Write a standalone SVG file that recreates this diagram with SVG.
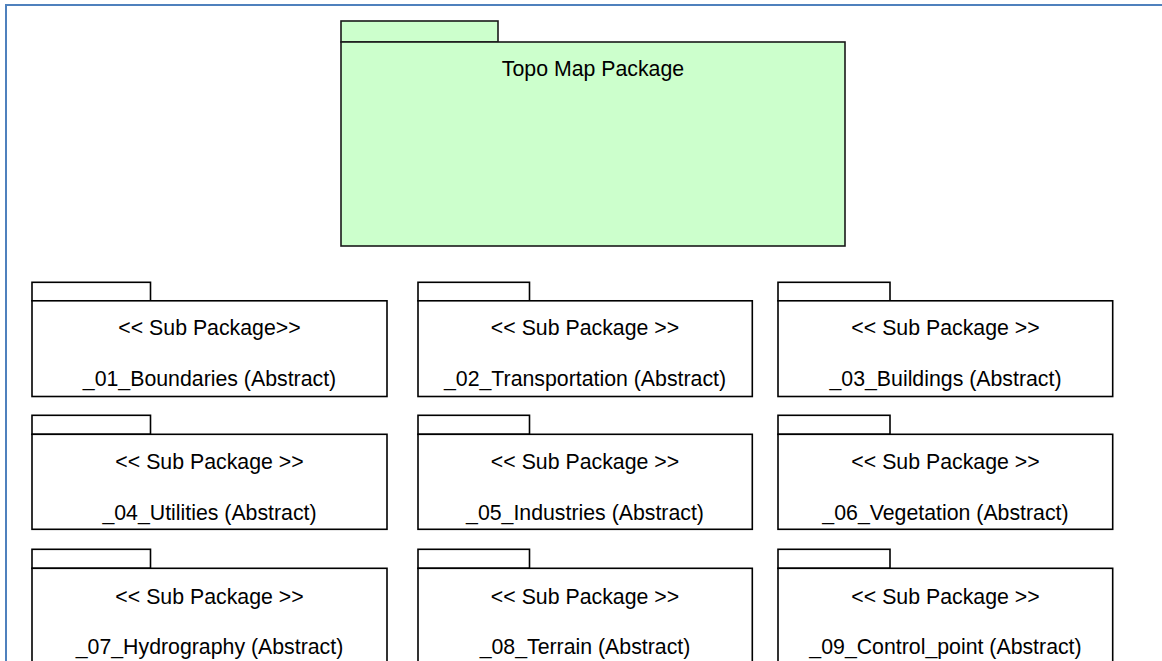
<svg xmlns="http://www.w3.org/2000/svg" width="1162" height="661" viewBox="0 0 1162 661">
  <style>
    .frame { fill: none; stroke: #4f81bd; stroke-width: 2; }
    .pkg { fill: #ffffff; stroke: #000000; stroke-width: 1.6; }
    .main { fill: #ccffcc; stroke: #1a1a1a; stroke-width: 1.6; }
    text { font-family: "Liberation Sans", Arial, sans-serif; font-size: 21.3px; fill: #000000; text-anchor: middle; }
  </style>

  <rect width="1162" height="661" fill="#ffffff"/>
  <!-- page frame -->
  <rect class="frame" x="6" y="5" width="1200" height="700"/>

  <!-- top-level package -->
  <g id="topo-map-package">
    <rect class="main" x="341" y="21" width="157" height="21"/>
    <rect class="main" x="341" y="42" width="504" height="204"/>
    <text x="593" y="76">Topo Map Package</text>
  </g>

  <!-- sub packages, row 1 -->
  <g id="pkg-01-boundaries">
    <rect class="pkg" x="32" y="282.3" width="118.5" height="18.5"/>
    <rect class="pkg" x="32" y="300.8" width="355" height="95.7"/>
    <text x="209.5" y="335.3">&lt;&lt; Sub Package&gt;&gt;</text>
    <text x="209.5" y="386.3">_01_Boundaries (Abstract)</text>
  </g>
  <g id="pkg-02-transportation">
    <rect class="pkg" x="418" y="282.3" width="111.5" height="18.5"/>
    <rect class="pkg" x="418" y="300.8" width="334.3" height="95.7"/>
    <text x="585" y="335.3">&lt;&lt; Sub Package &gt;&gt;</text>
    <text x="585" y="386.3">_02_Transportation (Abstract)</text>
  </g>
  <g id="pkg-03-buildings">
    <rect class="pkg" x="778" y="282.3" width="112" height="18.5"/>
    <rect class="pkg" x="778" y="300.8" width="334.7" height="95.7"/>
    <text x="945.5" y="335.3">&lt;&lt; Sub Package &gt;&gt;</text>
    <text x="945.5" y="386.3">_03_Buildings (Abstract)</text>
  </g>

  <!-- sub packages, row 2 -->
  <g id="pkg-04-utilities">
    <rect class="pkg" x="32" y="415.3" width="118.5" height="19"/>
    <rect class="pkg" x="32" y="434.3" width="355" height="95"/>
    <text x="209.5" y="469.3">&lt;&lt; Sub Package &gt;&gt;</text>
    <text x="209.5" y="519.5">_04_Utilities (Abstract)</text>
  </g>
  <g id="pkg-05-industries">
    <rect class="pkg" x="418" y="415.3" width="111.5" height="19"/>
    <rect class="pkg" x="418" y="434.3" width="334.3" height="95"/>
    <text x="585" y="469.3">&lt;&lt; Sub Package &gt;&gt;</text>
    <text x="585" y="519.5">_05_Industries (Abstract)</text>
  </g>
  <g id="pkg-06-vegetation">
    <rect class="pkg" x="778" y="415.3" width="112" height="19"/>
    <rect class="pkg" x="778" y="434.3" width="334.7" height="95"/>
    <text x="945.5" y="469.3">&lt;&lt; Sub Package &gt;&gt;</text>
    <text x="945.5" y="519.5">_06_Vegetation (Abstract)</text>
  </g>

  <!-- sub packages, row 3 (runs past the lower edge) -->
  <g id="pkg-07-hydrography">
    <rect class="pkg" x="32" y="549.3" width="118.5" height="19"/>
    <rect class="pkg" x="32" y="568.3" width="355" height="96"/>
    <text x="209.5" y="603.5">&lt;&lt; Sub Package &gt;&gt;</text>
    <text x="209.5" y="654">_07_Hydrography (Abstract)</text>
  </g>
  <g id="pkg-08-terrain">
    <rect class="pkg" x="418" y="549.3" width="111.5" height="19"/>
    <rect class="pkg" x="418" y="568.3" width="334.3" height="96"/>
    <text x="585" y="603.5">&lt;&lt; Sub Package &gt;&gt;</text>
    <text x="585" y="654">_08_Terrain (Abstract)</text>
  </g>
  <g id="pkg-09-control-point">
    <rect class="pkg" x="778" y="549.3" width="112" height="19"/>
    <rect class="pkg" x="778" y="568.3" width="334.7" height="96"/>
    <text x="945.5" y="603.5">&lt;&lt; Sub Package &gt;&gt;</text>
    <text x="945.5" y="654">_09_Control_point (Abstract)</text>
  </g>

  <!-- no connectors between the packages -->
  <g id="connectors"/>
</svg>
